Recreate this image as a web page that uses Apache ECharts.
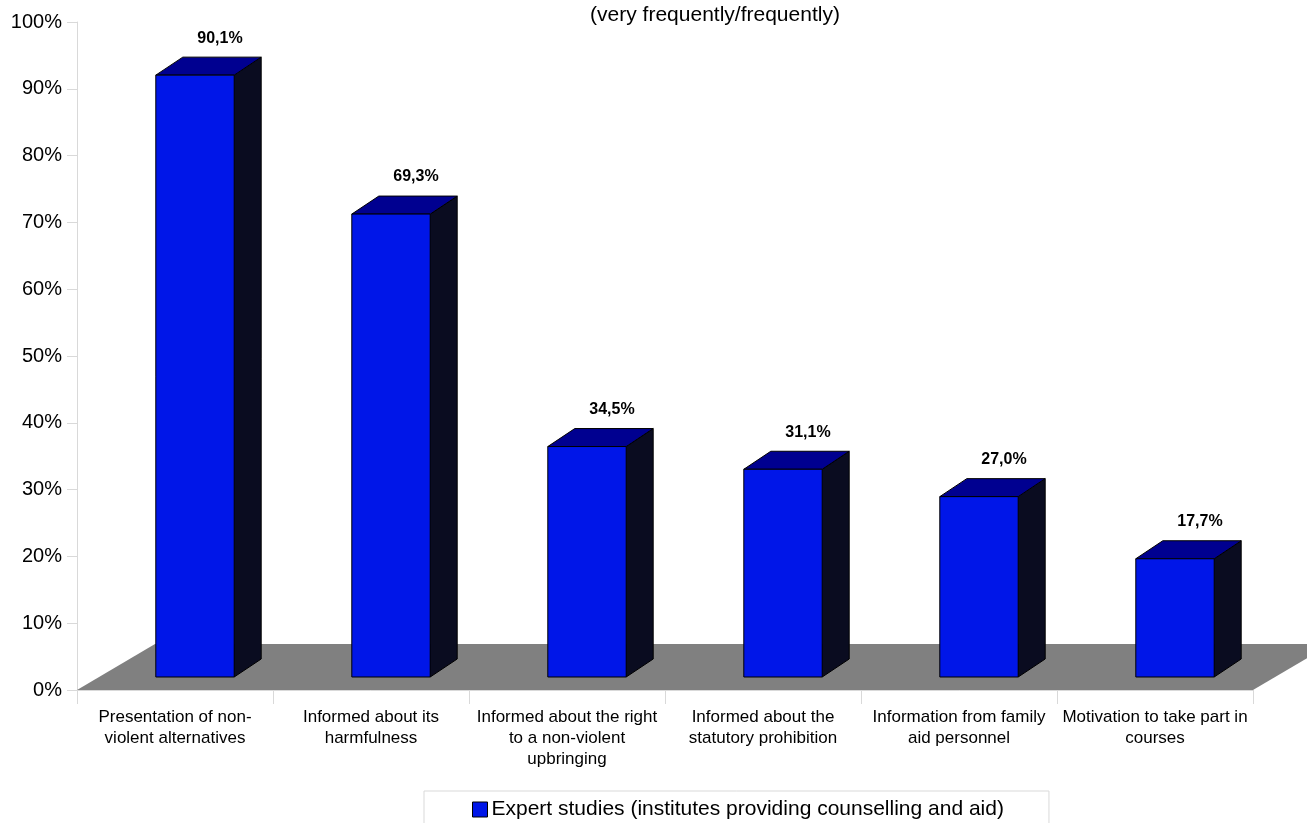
<!DOCTYPE html>
<html>
<head>
<meta charset="utf-8">
<script src="https://cdn.jsdelivr.net/npm/echarts@6/dist/echarts.min.js"></script>
<style>html,body{margin:0;padding:0;background:#fff}#c{width:1307px;height:823px}</style>
</head>
<body>
<div id="c"></div>
<script>
const categories = [
  "Presentation of non-\nviolent alternatives",
  "Informed about its\nharmfulness",
  "Informed about the right\nto a non-violent\nupbringing",
  "Informed about the\nstatutory prohibition",
  "Information from family\naid personnel",
  "Motivation to take part in\ncourses"
];
const values = [90.1, 69.3, 34.5, 31.1, 27.0, 17.7];
const seriesName = "Expert studies (institutes providing counselling and aid)";
const titleText = "(very frequently/frequently)";

const FONT = "Liberation Sans, Arial, sans-serif";
const chart = echarts.init(document.getElementById('c'));

function renderBar(params, api) {
  const idx = api.value(0), v = api.value(1);
  const top = api.coord([idx, v]);
  const base = api.coord([idx, 0]);
  const bw = api.size([1, 0])[0] * 0.40;
  const ox = 20, oy = -13, dx = 27, dy = -18;
  const x0 = top[0] - bw / 2 + ox, x1 = x0 + bw;
  const yT = top[1] + oy, yB = base[1] + oy;
  const line = {stroke: '#000', lineWidth: 1};
  return {
    type: 'group',
    children: [
      {type: 'polygon', shape: {points: [[x1, yB], [x1 + dx, yB + dy], [x1 + dx, yT + dy], [x1, yT]]},
        style: Object.assign({fill: '#0a0c20'}, line)},
      {type: 'polygon', shape: {points: [[x0, yT], [x0 + dx, yT + dy], [x1 + dx, yT + dy], [x1, yT]]},
        style: Object.assign({fill: '#000090'}, line)},
      {type: 'rect', shape: {x: x0, y: yT, width: bw, height: yB - yT},
        style: Object.assign({fill: '#0016e8'}, line)},
      {type: 'text', style: {
        text: v.toFixed(1).replace('.', ',') + '%',
        x: top[0] + ox + 25, y: yT - 37,
        align: 'center', verticalAlign: 'middle',
        font: 'bold 16px ' + FONT, fill: '#000'
      }}
    ]
  };
}

function renderFloor(params, api) {
  const cs = params.coordSys;
  const yb = cs.y + cs.height;
  const fx = 78, fy = -46;
  return {
    type: 'polygon',
    shape: {points: [[cs.x, yb], [cs.x + cs.width, yb], [cs.x + cs.width + fx, yb + fy], [cs.x + fx, yb + fy]]},
    style: {fill: '#808080'}
  };
}

chart.setOption({
  animation: false,
  title: {
    text: titleText, left: 710, top: 0, textAlign: 'center',
    textStyle: {fontFamily: FONT, fontSize: 21, fontWeight: 'normal', color: '#000'}
  },
  grid: {left: 77, right: 54, top: 22, bottom: 133},
  legend: {
    left: 424, top: 791,
    borderColor: '#d9d9d9', borderWidth: 1, padding: [8, 45, 10, 48],
    itemWidth: 15, itemHeight: 15, itemGap: 4,
    textStyle: {fontFamily: FONT, fontSize: 21, color: '#000', padding: [0, 0, 0, -1]},
    data: [{name: seriesName, icon: 'rect', itemStyle: {color: '#0016e8', borderColor: '#000', borderWidth: 1}}]
  },
  xAxis: {
    type: 'category', data: categories,
    axisLine: {show: true, lineStyle: {color: '#d9d9d9'}},
    axisTick: {show: true, length: 14, lineStyle: {color: '#d9d9d9'}},
    axisLabel: {interval: 0, fontFamily: FONT, fontSize: 17, color: '#000', lineHeight: 21, margin: 17}
  },
  yAxis: {
    type: 'value', min: 0, max: 100, interval: 10,
    axisLine: {show: true, lineStyle: {color: '#d9d9d9'}},
    axisTick: {show: true, length: 10, lineStyle: {color: '#d9d9d9'}},
    splitLine: {show: false},
    axisLabel: {formatter: '{value}%', fontFamily: FONT, fontSize: 20, color: '#000', margin: 15}
  },
  series: [
    {type: 'custom', name: 'floor', renderItem: renderFloor, data: [[0, 0]], z: 1, silent: true},
    {type: 'custom', name: seriesName, renderItem: renderBar, z: 3,
      itemStyle: {color: '#0016e8'},
      data: values.map((v, i) => [i, v])}
  ]
});
</script>
</body>
</html>
